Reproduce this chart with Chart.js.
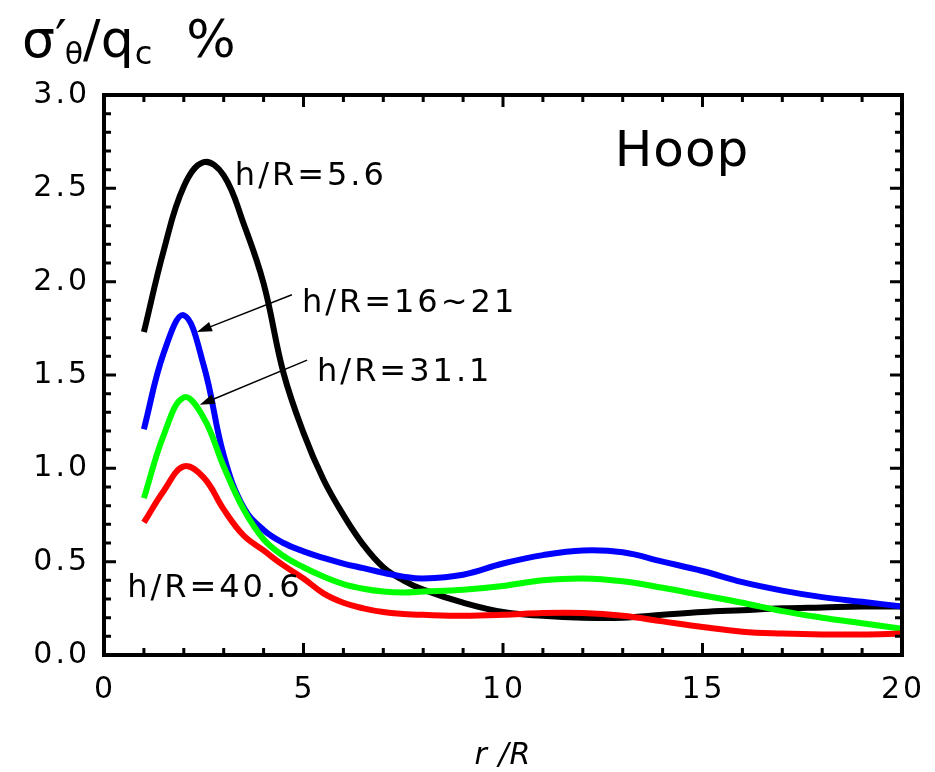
<!DOCTYPE html>
<html>
<head>
<meta charset="utf-8">
<script src="https://cdn.jsdelivr.net/npm/chart.js@4"></script>
<style>
html,body{margin:0;padding:0;background:#fff;}
#wrap{width:935px;height:772px;}
</style>
</head>
<body>
<div id="wrap"><canvas id="chart" width="935" height="772"></canvas></div>
<script>
// r/R positions shared by all curves
const rR = [1,1.5,2,2.5,3,3.5,4,4.5,5,5.5,6,6.5,7,7.5,8,9,10,11,12,13,14,15,16,17,18,19,20];

// sigma'_theta / q_c (%) for each h/R
const hoop56 = [1.73,2.17,2.51,2.64,2.57,2.31,1.99,1.51,1.19,0.94,0.75,0.59,0.47,0.40,0.35,0.28,0.23,0.21,0.20,0.20,0.215,0.23,0.24,0.25,0.255,0.26,0.26];
const hoop16 = [1.21,1.62,1.82,1.55,1.07,0.79,0.67,0.60,0.555,0.52,0.49,0.465,0.44,0.42,0.41,0.43,0.49,0.535,0.56,0.55,0.50,0.45,0.39,0.345,0.31,0.285,0.26];
const hoop31 = [0.84,1.18,1.38,1.27,1.01,0.78,0.62,0.53,0.47,0.42,0.38,0.355,0.34,0.335,0.34,0.35,0.37,0.40,0.41,0.395,0.36,0.32,0.28,0.235,0.20,0.17,0.14];
const hoop40 = [0.71,0.88,1.01,0.95,0.78,0.64,0.56,0.48,0.41,0.33,0.28,0.25,0.23,0.22,0.215,0.21,0.215,0.225,0.225,0.21,0.18,0.15,0.125,0.115,0.11,0.11,0.115];

const xTicks = [0,5,10,15,20];
const yTicks = [0,0.5,1,1.5,2,2.5,3];

const FONT = "'DejaVu Sans', Verdana, sans-serif";

function pts(ys){
return rR.map((r,i)=>({x:r,y:ys[i]}));
}

function ds(label,ys,color){
return {
label,
data:pts(ys),
borderColor:color,
borderWidth:6,
pointRadius:0,
fill:false,
tension:0.4
};
}

function text(ctx,str,x,y,size,opts={}){
ctx.font=(opts.italic?"italic ":"")+size+"px "+FONT;
ctx.letterSpacing=(opts.ls||0)+"px";
ctx.textAlign=opts.align||"left";
ctx.textBaseline=opts.base||"alphabetic";
ctx.fillStyle="#000";
ctx.fillText(str,x,y);
const w=ctx.measureText(str).width;
ctx.letterSpacing="0px";
return w;
}

function arrow(ctx,x1,y1,x2,y2){
const a=Math.atan2(y2-y1,x2-x1);
const L=15,W=5;
ctx.strokeStyle="#000";
ctx.fillStyle="#000";
ctx.lineWidth=1.4;
ctx.beginPath();
ctx.moveTo(x1,y1);
ctx.lineTo(x2-L*Math.cos(a)*0.8,y2-L*Math.sin(a)*0.8);
ctx.stroke();
ctx.beginPath();
ctx.moveTo(x2,y2);
ctx.lineTo(x2-L*Math.cos(a)+W*Math.sin(a),y2-L*Math.sin(a)-W*Math.cos(a));
ctx.lineTo(x2-L*Math.cos(a)-W*Math.sin(a),y2-L*Math.sin(a)+W*Math.cos(a));
ctx.closePath();
ctx.fill();
}

const decor={
id:"decor",
afterDatasetsDraw(chart){
const ctx=chart.ctx;
const xs=chart.scales.x, ys=chart.scales.y;
const a=chart.chartArea;
const X=v=>xs.getPixelForValue(v), Y=v=>ys.getPixelForValue(v);
ctx.save();

// frame
ctx.strokeStyle="#000";
ctx.lineWidth=4;
ctx.lineCap="square";
ctx.strokeRect(a.left,a.top,a.right-a.left,a.bottom-a.top);

// ticks, inside on all four sides
ctx.lineWidth=3;
ctx.lineCap="butt";
ctx.beginPath();
for(let v=0;v<=20;v++){
const len=v%5===0?12:7;
const px=X(v);
ctx.moveTo(px,a.bottom);ctx.lineTo(px,a.bottom-len);
ctx.moveTo(px,a.top);ctx.lineTo(px,a.top+len);
}
for(let k=0;k<=30;k++){
const len=k%5===0?12:7;
const py=Y(k/10);
ctx.moveTo(a.left,py);ctx.lineTo(a.left+len,py);
ctx.moveTo(a.right,py);ctx.lineTo(a.right-len,py);
}
ctx.stroke();

// tick labels
xTicks.forEach(v=>text(ctx,String(v),X(v)+1,698,30,{align:"center",ls:3}));
yTicks.forEach(v=>text(ctx,v.toFixed(1),90,Y(v)+8,30,{align:"right",ls:3}));

// axis titles
text(ctx,"r /R",503,764,30,{italic:true,align:"center",ls:1});
let tx=22;
tx+=text(ctx,"σ′",tx,57,52,{});
tx+=text(ctx,"θ",tx-2,64,30,{})-2;
tx+=text(ctx,"/q",tx,57,52,{});
tx+=text(ctx,"c",tx+1,64,32,{})+1;
text(ctx,"%",tx+34,57,52,{});

// labels
text(ctx,"Hoop",X(12.8),Y(2.62),50,{ls:1});
text(ctx,"h/R=5.6",X(3.28),Y(2.52),32,{ls:3});
text(ctx,"h/R=16~21",X(4.96),Y(1.84),32,{ls:3});
text(ctx,"h/R=31.1",X(5.34),Y(1.47),32,{ls:3});
text(ctx,"h/R=40.6",X(0.58),Y(0.31),32,{ls:3});

arrow(ctx,X(4.71),Y(1.93),X(2.33),Y(1.73));
arrow(ctx,X(5.09),Y(1.58),X(2.40),Y(1.34));

ctx.restore();
}
};

new Chart(document.getElementById("chart"),{
type:"line",
data:{
datasets:[
ds("h/R=40.6",hoop40,"#ff0000"),
ds("h/R=31.1",hoop31,"#00ff00"),
ds("h/R=16~21",hoop16,"#0000ff"),
ds("h/R=5.6",hoop56,"#000000")
]
},
options:{
responsive:false,
animation:false,
layout:{padding:{left:104,right:33,top:95,bottom:117}},
plugins:{legend:{display:false},tooltip:{enabled:false},title:{display:false}},
scales:{
x:{type:"linear",min:0,max:20,display:false},
y:{type:"linear",min:0,max:3,display:false}
}
},
plugins:[decor]
});
</script>
</body>
</html>
